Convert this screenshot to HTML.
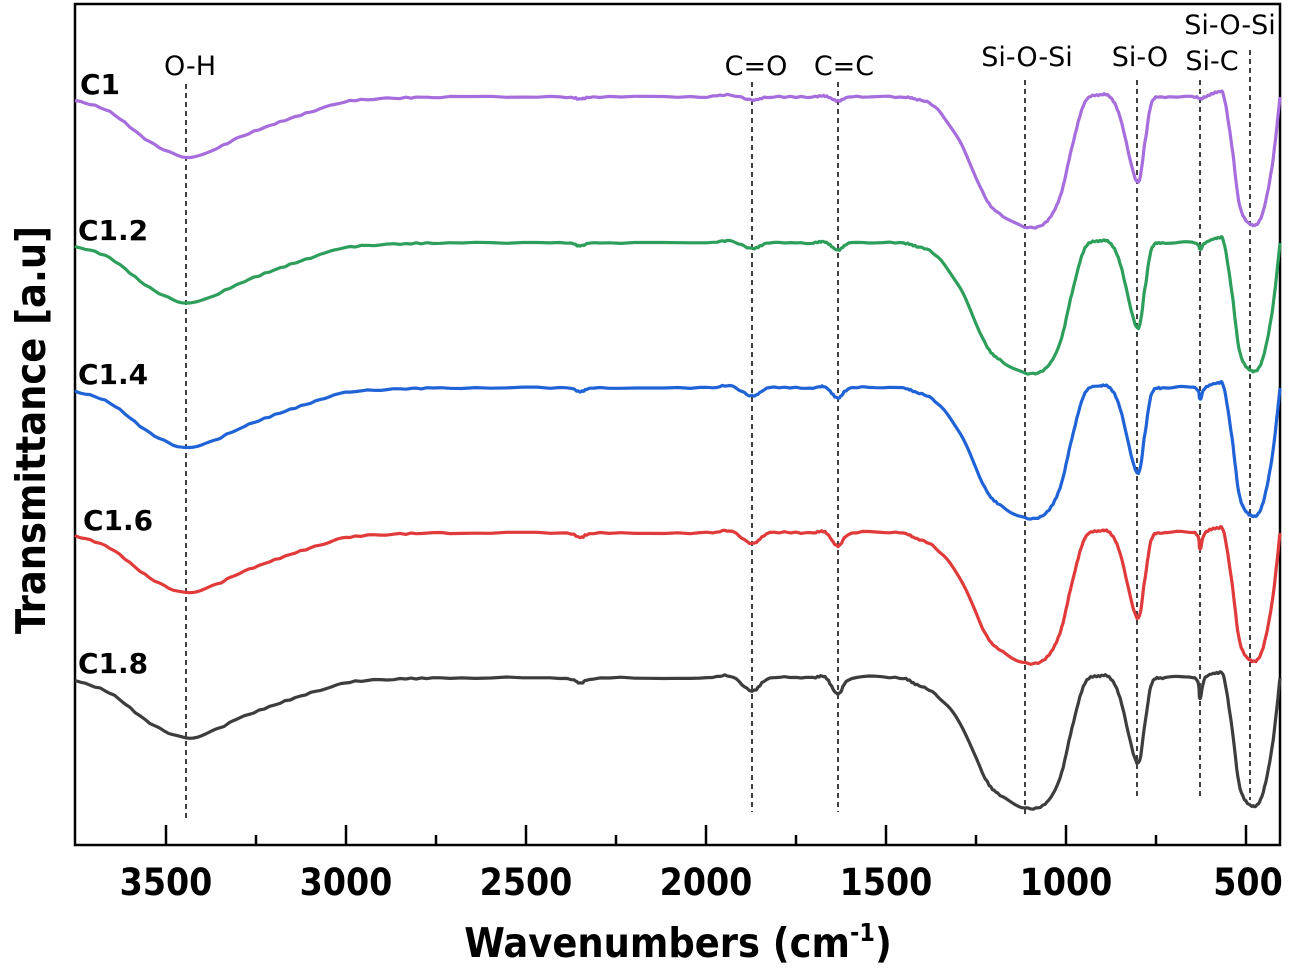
<!DOCTYPE html>
<html><head><meta charset="utf-8"><style>
html,body{margin:0;padding:0;background:#fff;}
svg{display:block}
.t{font-family:"DejaVu Sans","Liberation Sans",sans-serif;}
</style></head><body>
<svg id="s" width="1291" height="974" xmlns="http://www.w3.org/2000/svg">
<rect x="75" y="4" width="1205" height="841" fill="none" stroke="#000" stroke-width="2.5"/>
<g stroke="#000" stroke-width="2.5">
<line x1="166" y1="845" x2="166" y2="825"/><line x1="256" y1="845" x2="256" y2="835"/>
<line x1="346" y1="845" x2="346" y2="825"/><line x1="436" y1="845" x2="436" y2="835"/>
<line x1="526" y1="845" x2="526" y2="825"/><line x1="616" y1="845" x2="616" y2="835"/>
<line x1="706" y1="845" x2="706" y2="825"/><line x1="796" y1="845" x2="796" y2="835"/>
<line x1="886" y1="845" x2="886" y2="825"/><line x1="976" y1="845" x2="976" y2="835"/>
<line x1="1066" y1="845" x2="1066" y2="825"/><line x1="1156" y1="845" x2="1156" y2="835"/>
<line x1="1246" y1="845" x2="1246" y2="825"/>
</g>
<g class="t" font-weight="bold" font-size="37" text-anchor="middle" style="font-family:'DejaVu Sans Condensed','DejaVu Sans',sans-serif">
<text x="166" y="895">3500</text><text x="346" y="895">3000</text><text x="526" y="895">2500</text>
<text x="706" y="895">2000</text><text x="886" y="895">1500</text><text x="1066" y="895">1000</text>
<text x="1248" y="895">500</text>
<text x="678" y="957" font-size="41">Wavenumbers (cm<tspan font-size="25" dy="-16">-1</tspan><tspan dy="16">)</tspan></text>
<text transform="translate(45,430) rotate(-90)" font-size="41">Transmittance [a.u]</text>
</g>
<g stroke="#000" stroke-width="1.5" stroke-dasharray="5,4">
<line x1="186" y1="84" x2="186" y2="820"/>
<line x1="752" y1="82" x2="752" y2="812"/>
<line x1="838" y1="82" x2="838" y2="812"/>
<line x1="1025" y1="80" x2="1025" y2="815"/>
<line x1="1137" y1="80" x2="1137" y2="800"/>
<line x1="1200" y1="80" x2="1200" y2="800"/>
<line x1="1250" y1="50" x2="1250" y2="800"/>
</g>
<g class="t" font-size="27" text-anchor="middle" fill="#000">
<text x="190" y="75">O-H</text><text x="756" y="75">C=O</text><text x="844" y="75">C=C</text>
<text x="1027" y="66">Si-O-Si</text><text x="1140" y="66">Si-O</text><text x="1212" y="70">Si-C</text>
<text x="1230" y="34">Si-O-Si</text>
</g>
<g class="t" font-size="28" font-weight="bold" fill="#000">
<text x="80" y="94">C1</text><text x="78" y="240">C1.2</text><text x="78" y="384">C1.4</text>
<text x="83" y="530">C1.6</text><text x="78" y="673">C1.8</text>
</g>
<g id="curves" fill="none" stroke-width="3.2" stroke-linejoin="round"></g>
</svg>
<script>
var series=[
 {c:"#a66ddc",b:97,k:0},{c:"#2e9e5b",b:243,k:1},{c:"#1f63d6",b:388,k:2},
 {c:"#e03a3a",b:533,k:3},{c:"#3d3d3d",b:678,k:4}];
function pts(k){
 var s=k/4;
 return [[75,3],[110,15],[150,45],[186,60],[215,52],[240,40],[280,25],[320,12],[350,4],[400,1],
 [450,0],[560,0],[580,2+3*s],[600,0],[700,0],[730,-2],[752,3+10*s],[770,0],[810,0],[825,-1],[838,4+12*s],[852,0],
 [900,0],[915,2+4*s],[935,10+6*s],[960,45],[985,100],[1000,117],[1025,130],[1045,126],[1060,100],[1072,50],[1085,5],[1100,-2],[1110,0],
 [1120,20],[1137,85],[1145,45],[1152,5],[1165,0],[1195,0],[1200,2+18*s],[1205,0],[1218,-5],[1224,0],[1232,50],[1240,110],[1252,128],[1262,118],[1272,70],[1280,0]];
}
var g=document.getElementById("curves");
series.forEach(function(sr){
 var p=pts(sr.k);
 var arr=[];
 for(var i=0;i<p.length-1;i++){
  var p0=p[Math.max(i-1,0)],p1=p[i],p2=p[i+1],p3=p[Math.min(i+2,p.length-1)];
  for(var t=0;t<1;t+=0.125){
   var t2=t*t,t3=t2*t;
   var x=0.5*((2*p1[0])+(-p0[0]+p2[0])*t+(2*p0[0]-5*p1[0]+4*p2[0]-p3[0])*t2+(-p0[0]+3*p1[0]-3*p2[0]+p3[0])*t3);
   var y=0.5*((2*p1[1])+(-p0[1]+p2[1])*t+(2*p0[1]-5*p1[1]+4*p2[1]-p3[1])*t2+(-p0[1]+3*p1[1]-3*p2[1]+p3[1])*t3);
   arr.push(x.toFixed(1)+","+(sr.b+y+(Math.sin(x*1.7+sr.k)*0.6)).toFixed(1));
  }
 }
 arr.push("1280,"+sr.b);
 var e=document.createElementNS("http://www.w3.org/2000/svg","polyline");
 e.setAttribute("points",arr.join(" "));e.setAttribute("stroke",sr.c);
 g.appendChild(e);
});
</script>
</body></html>
